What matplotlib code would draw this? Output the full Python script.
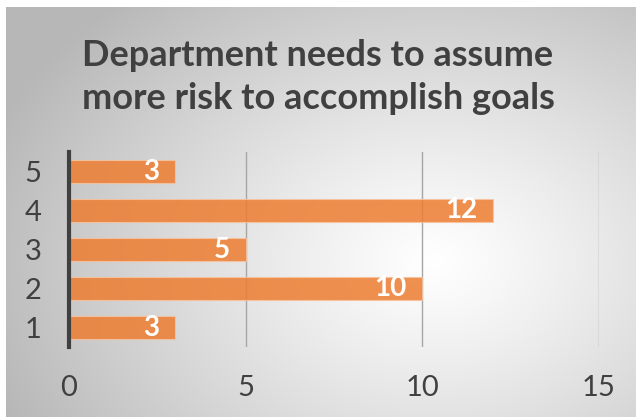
import numpy as np
import matplotlib
matplotlib.use("Agg")
import matplotlib.pyplot as plt

categories = ["1", "2", "3", "4", "5"]
values = [3, 10, 5, 12, 3]
x_ticks = [0, 5, 10, 15]
title = "Department needs to assume\nmore risk to accomplish goals"

W, H = 636, 417
fig = plt.figure(figsize=(W / 100, H / 100), dpi=100, facecolor="white")

# Radial gradient backdrop of the chart area
bg = fig.add_axes([6 / W, 0, 1 - 6 / W, 1 - 7 / H])
bg.set_axis_off()
gx, gy = np.meshgrid(np.linspace(0, 1, 400), np.linspace(0, 1, 300))
r = np.sqrt(((gx - 0.68) / 0.75) ** 2 + ((gy - 0.62) / 0.85) ** 2)
shade = 1.0 - 0.28 * np.clip(r, 0, 1) ** 1.15
bg.imshow(np.dstack([shade] * 3), extent=[0, 1, 0, 1], aspect="auto",
          origin="upper", interpolation="bilinear")

# Plot area
left, right = 69 / W, 599 / W
top, bottom = 152 / H, 347 / H
ax = fig.add_axes([left, 1 - bottom, right - left, bottom - top])
ax.patch.set_alpha(0)

y = np.arange(1, len(categories) + 1)
bars = ax.barh(y, values, height=0.59, color="#ED7D31", alpha=0.85,
               edgecolor="#F7C4A0", linewidth=0.8, zorder=3)

ax.set_xlim(0, 15)
ax.set_ylim(0.5, len(categories) + 0.5)
ax.set_xticks(x_ticks)
ax.set_yticks(y)
ax.set_yticklabels(categories)
ax.xaxis.grid(True, color="#a6a6a6", linewidth=1.0, zorder=0)
ax.set_axisbelow(True)
for s in ["top", "right", "bottom"]:
    ax.spines[s].set_visible(False)
ax.spines["left"].set_color("#404040")
ax.spines["left"].set_linewidth(3)
ax.spines["left"].set_zorder(4)
ax.tick_params(axis="both", length=0, labelsize=21, labelcolor="#404040")
ax.tick_params(axis="x", pad=20)
ax.tick_params(axis="y", pad=20)
for lab in ax.get_xticklabels() + ax.get_yticklabels():
    lab.set_fontfamily("Lato")

for b, v in zip(bars, values):
    ax.text(v - 0.45, b.get_y() + b.get_height() / 2, str(v),
            ha="right", va="center", color="white", fontsize=20,
            fontweight="bold", family="Lato", zorder=5)

fig.text(318 / W, 1 - 77 / H, title, ha="center", va="center",
         fontsize=26, fontweight="bold", color="#404040",
         family="Lato", linespacing=1.34)

fig.savefig("out.png", dpi=100, facecolor="white")
